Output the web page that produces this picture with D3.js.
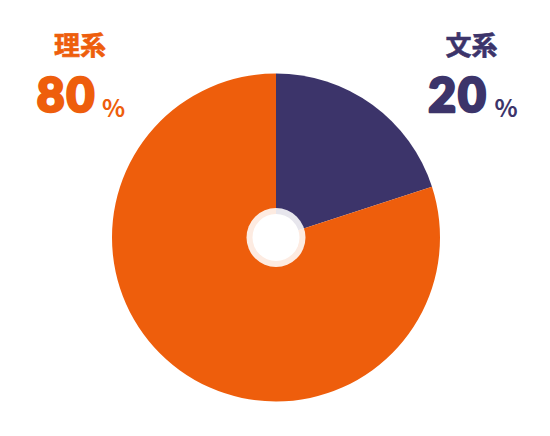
<!DOCTYPE html>
<html>
<head>
<meta charset="utf-8">
<script src="https://cdn.jsdelivr.net/npm/d3@7"></script>
<style>
body { margin: 0; background: #fff; }
svg { display: block; }
</style>
</head>
<body>
<svg id="chart"></svg>
<script>
// ---------------------------- data -----------------------------------
const categories = ['文系', '理系'];
const values = [20, 80];
const colors = ['#3c346a', '#ee5e0c'];

const width = 550;
const height = 436;
const svg = d3.select('#chart')
.attr('width', width)
.attr('height', height);

// pie, starting at 12 o'clock, clockwise, no sorting
const cx = 276, cy = 237.5, radius = 164;

const pie = d3.pie()
.sort(null)
.value(d => d.value);

const arc = d3.arc()
.innerRadius(0)
.outerRadius(radius);

const slices = categories.map((c, i) => ({ name: c, value: values[i], color: colors[i] }));

const g = svg.append('g')
.attr('transform', `translate(${cx},${cy})`);

g.selectAll('path')
.data(pie(slices))
.enter()
.append('path')
.attr('d', arc)
.attr('fill', d => d.data.color);

// centre hole with a pale ring
g.append('circle')
.attr('r', 29.5)
.attr('fill', '#fff')
.attr('opacity', 0.88);

g.append('circle')
.attr('r', 23.5)
.attr('fill', '#fff');

// ---------------------------- labels -----------------------------------
// label anchor positions (layout only)
const labelPos = {
'文系': { x: 471.5, nameY: 55, numX: 458, numY: 111.5, pctX: 506 },
'理系': { x: 80, nameY: 55, numX: 66.5, numY: 111.5, pctX: 113.5 }
};

const cjk = '"Noto Sans CJK JP", "Noto Sans CJK SC", sans-serif';

slices.forEach(function(s) {
const p = labelPos[s.name];

svg.append('text')
    .attr('x', p.x)
    .attr('y', p.nameY)
    .attr('text-anchor', 'middle')
    .attr('font-family', cjk)
    .attr('font-weight', 700)
    .attr('font-size', 26)
    .attr('fill', s.color)
    .attr('stroke', s.color)
    .attr('stroke-width', 0.6)
    .text(s.name);

// heavy digits (stroke to thicken them)
svg.append('text')
    .attr('x', p.numX)
    .attr('y', p.numY)
    .attr('text-anchor', 'middle')
    .attr('font-family', 'Lato, "Noto Sans", sans-serif')
    .attr('font-weight', 900)
    .attr('font-size', 48)
    .attr('fill', s.color)
    .attr('stroke', s.color)
    .attr('stroke-width', 2.6)
    .attr('stroke-linejoin', 'round')
    .attr('letter-spacing', 2)
    .text(s.value);

svg.append('text')
    .attr('x', p.pctX)
    .attr('y', 116.5)
    .attr('text-anchor', 'middle')
    .attr('font-family', cjk)
    .attr('font-weight', 700)
    .attr('font-size', 24)
    .attr('fill', s.color)
    .text('%');
});
</script>
</body>
</html>
